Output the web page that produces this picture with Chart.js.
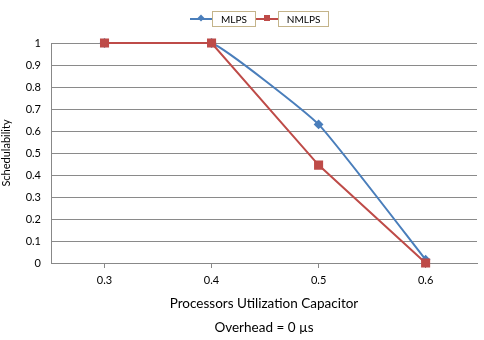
<!DOCTYPE html>
<html>
<head>
<meta charset="utf-8">
<script src="https://cdn.jsdelivr.net/npm/chart.js@4/dist/chart.umd.min.js"></script>
<style>
  html, body { margin: 0; padding: 0; background: #fff; overflow: hidden; }
  #wrap { position: relative; width: 484px; height: 340px; }
  #legend { position: absolute; top: 11px; left: 190px; display: flex; align-items: center; font: 10px Lato, sans-serif; color: #000; }
  .sym { position: relative; width: 22px; height: 14px; }
  .sym .ln { position: absolute; left: 0; right: 0; top: 6px; height: 2px; }
  .sym .mk { position: absolute; left: 8px; top: 3px; width: 6px; height: 6px; }
  .box { border: 1px solid #c4b48a; padding: 1px 8px; height: 12px; line-height: 12px; }
</style>
</head>
<body>
<div id="wrap">
  <canvas id="c" width="484" height="340"></canvas>
  <div id="legend"></div>
</div>
<script>
const xValues = [0.3, 0.4, 0.5, 0.6];
const seriesNames = ['MLPS', 'NMLPS'];
const mlps = [1, 1, 0.63, 0.015];
const nmlps = [1, 1, 0.445, 0];
const yTicks = [0, 0.1, 0.2, 0.3, 0.4, 0.5, 0.6, 0.7, 0.8, 0.9, 1];

const blue = '#4a7ebb';
const red = '#be4b48';
const font = 'Lato, "Liberation Sans", sans-serif';

function pts(vals) { return xValues.map((x, i) => ({ x: x, y: vals[i] })); }

// red (NMLPS) is drawn over blue, like the reference
const chart = new Chart(document.getElementById('c'), {
  type: 'line',
  data: {
    datasets: [
      { label: seriesNames[0], data: pts(mlps), borderColor: blue, backgroundColor: blue, borderWidth: 2,
        pointStyle: 'rectRot', pointRadius: 3.5, tension: 0.12, order: 2, clip: 8 },
      { label: seriesNames[1], data: pts(nmlps), borderColor: red, backgroundColor: red, borderWidth: 2,
        pointStyle: 'rect', pointRadius: 5, tension: 0, order: 1, clip: 8 }
    ]
  },
  options: {
    responsive: false,
    animation: false,
    layout: { padding: { top: 43, right: 0, left: 0, bottom: 0 } },
    plugins: { legend: { display: false }, tooltip: { enabled: false } },
    scales: {
      x: {
        type: 'linear', min: 0.25, max: 0.648,
        afterBuildTicks: s => { s.ticks = xValues.map(v => ({ value: v })); },
        afterFit: s => { s.height = 77; },
        grid: { drawOnChartArea: false, tickLength: 5, color: '#888' },
        border: { color: '#888' },
        ticks: { color: '#000', font: { family: font, size: 11 }, padding: 6, callback: v => v.toFixed(1), maxRotation: 0 },
        title: { display: true, text: ['Processors Utilization Capacitor', 'Overhead = 0 µs'], color: '#000',
                 font: { family: font, size: 13.5, lineHeight: 1.8 }, padding: { top: 4, bottom: 0 } }
      },
      y: {
        min: 0, max: 1,
        afterBuildTicks: s => { s.ticks = yTicks.map(v => ({ value: v })); },
        afterFit: s => { s.width = 51; },
        grid: { color: '#8a8a8a', tickLength: 0, drawTicks: false },
        border: { color: '#888' },
        ticks: { color: '#000', font: { family: font, size: 11 }, padding: 10, callback: v => String(Math.round(v * 10) / 10) },
        title: { display: true, text: 'Schedulability', color: '#000', font: { family: font, size: 11 }, padding: 0 }
      }
    }
  }
});

// legend
const lg = document.getElementById('legend');
chart.data.datasets.forEach(ds => {
  const sym = document.createElement('div');
  sym.className = 'sym';
  const ln = document.createElement('div'); ln.className = 'ln'; ln.style.background = ds.borderColor;
  const mk = document.createElement('div'); mk.className = 'mk'; mk.style.background = ds.backgroundColor;
  if (ds.pointStyle === 'rectRot') { mk.style.transform = 'rotate(45deg) scale(0.8)'; }
  sym.appendChild(ln); sym.appendChild(mk);
  const box = document.createElement('div'); box.className = 'box'; box.textContent = ds.label;
  lg.appendChild(sym); lg.appendChild(box);
});
</script>
</body>
</html>
